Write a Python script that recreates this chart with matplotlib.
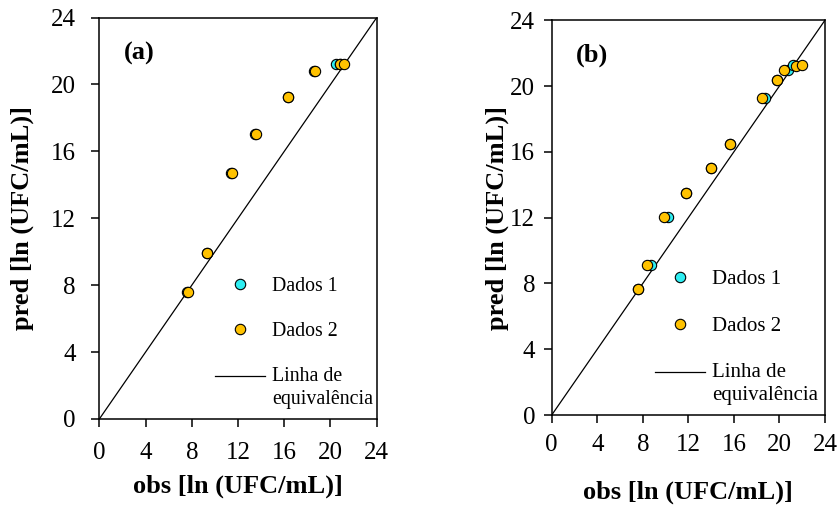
import matplotlib
matplotlib.use("Agg")
import matplotlib.pyplot as plt
from matplotlib.lines import Line2D

plt.rcParams["font.family"] = ["Liberation Serif", "DejaVu Serif"]

# panel (a): obs / pred, ln(UFC/mL)
obs_a1 = [7.6, 9.3, 11.35, 13.5, 16.3, 18.55, 20.5, 20.8]
pred_a1 = [7.6, 9.95, 14.7, 17.05, 19.25, 20.8, 21.2, 21.2]
obs_a2 = [7.65, 9.35, 11.5, 13.55, 16.35, 18.65, 20.85, 21.2]
pred_a2 = [7.6, 9.95, 14.7, 17.05, 19.25, 20.8, 21.2, 21.2]

# panel (b)
obs_b1 = [7.6, 8.7, 10.25, 11.8, 13.95, 15.7, 18.75, 19.8, 20.75, 21.2]
pred_b1 = [7.65, 9.1, 12.05, 13.5, 15.0, 16.45, 19.25, 20.35, 20.95, 21.25]
obs_b2 = [7.6, 8.35, 9.85, 11.8, 13.95, 15.7, 18.45, 19.8, 20.4, 21.45, 21.95]
pred_b2 = [7.65, 9.1, 12.05, 13.5, 15.0, 16.45, 19.25, 20.35, 20.95, 21.2, 21.25]

ticks = [0, 4, 8, 12, 16, 20, 24]
equiv = [0, 24]
labels = ["Dados 1", "Dados 2", "Linha de\nequivalência"]

CYAN = "#2EEEF2"
GOLD = "#FFC200"

fig = plt.figure(figsize=(8.39, 5.05), dpi=100)
ax_a = fig.add_axes([0.1184, 0.1703, 0.3306, 0.7949])
ax_b = fig.add_axes([0.6576, 0.1782, 0.3257, 0.7818])

# the two panels were not made with identical paddings / legend sizes
panels = [
    # ax, tag, data, legend anchor, legend size, label spacing, xpad, ypad, xlabelpad, ylabelpad
    (ax_a, "(a)", obs_a1, pred_a1, obs_a2, pred_a2, (0.987, 0.025), 14.3, 1.3, 10.3, 11, 8, 12),
    (ax_b, "(b)", obs_b1, pred_b1, obs_b2, pred_b2, (0.974, 0.025), 15.0, 1.3, 7.5, 6, 18, 1),
]

legends = []
for ax, tag, x1, y1, x2, y2, leg_pos, leg_fs, lsp, xpad, ypad, xlp, ylp in panels:
    ax.plot(equiv, equiv, color="black", lw=0.9, zorder=1)
    ax.scatter(x1, y1, s=55, color=CYAN, edgecolor="black", linewidth=0.8, zorder=2)
    ax.scatter(x2, y2, s=55, color=GOLD, edgecolor="black", linewidth=0.8, zorder=3)

    ax.set_xlim(0, 24)
    ax.set_ylim(0, 24)
    ax.set_xticks(ticks)
    ax.set_yticks(ticks)
    ax.tick_params(direction="out", length=6, width=1.1, labelsize=18)
    ax.tick_params(axis="x", pad=xpad)
    ax.tick_params(axis="y", pad=ypad)
    for sp in ax.spines.values():
        sp.set_linewidth(1.1)

    ax.set_xlabel("obs [ln (UFC/mL)]", fontsize=19, fontweight="bold", labelpad=xlp)
    ax.set_ylabel("pred [ln (UFC/mL)]", fontsize=19, fontweight="bold", labelpad=ylp)
    ax.text(0.09, 0.91, tag, transform=ax.transAxes, fontsize=19,
            fontweight="bold", va="center", ha="left")

    handles = [
        Line2D([], [], ls="none", marker="o", ms=7.5, mfc=CYAN, mec="black", mew=0.8),
        Line2D([], [], ls="none", marker="o", ms=7.5, mfc=GOLD, mec="black", mew=0.8),
        Line2D([], [], color="black", lw=0.9),
    ]
    hlen = 50 / (leg_fs * 100 / 72)  # ~50 px handle
    leg = ax.legend(handles, labels, loc="lower right", bbox_to_anchor=leg_pos,
                    frameon=False, fontsize=leg_fs, handlelength=hlen,
                    handletextpad=0.34, labelspacing=lsp, borderpad=0,
                    borderaxespad=0)
    leg.get_texts()[2].set_linespacing(1.3)
    legends.append(leg)

# put the line handle level with the first line of its two-line label
fig.canvas.draw()
for leg in legends:
    one_line = leg.get_texts()[0].get_window_extent()
    two_line = leg.get_texts()[2].get_window_extent()
    target = two_line.y1 - one_line.height / 2
    hl = leg.legend_handles[2]
    yd = list(hl.get_ydata())
    cur = hl.get_transform().transform((0, yd[0]))[1]
    shift = (target - cur) * 72.0 / fig.dpi
    hl.set_ydata([v + shift for v in yd])

fig.savefig("out.png", dpi=100)
